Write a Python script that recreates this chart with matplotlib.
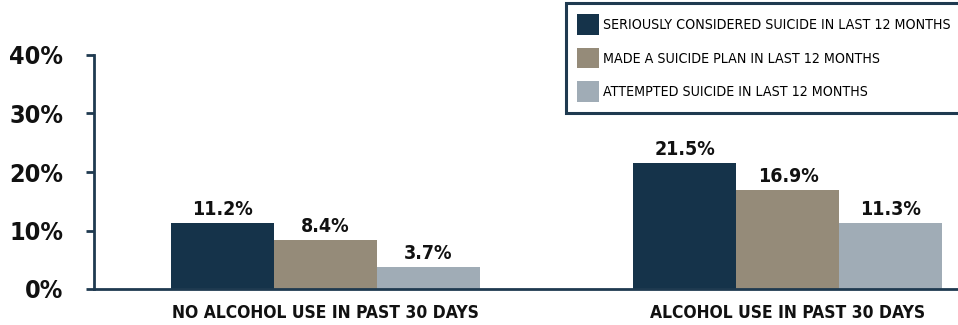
import matplotlib

matplotlib.use("Agg")
import matplotlib.pyplot as plt
import numpy as np
from matplotlib.patches import Patch

groups = ["NO ALCOHOL USE IN PAST 30 DAYS", "ALCOHOL USE IN PAST 30 DAYS"]
series = [
    "SERIOUSLY CONSIDERED SUICIDE IN LAST 12 MONTHS",
    "MADE A SUICIDE PLAN IN LAST 12 MONTHS",
    "ATTEMPTED SUICIDE IN LAST 12 MONTHS",
]
considered = [11.2, 21.5]
planned = [8.4, 16.9]
attempted = [3.7, 11.3]
yticks = [0, 10, 20, 30, 40]

colors = ["#15334a", "#958b79", "#a0acb6"]
axis_color = "#1f3a50"

fig = plt.figure(figsize=(9.58, 3.25), dpi=100)
fig.patch.set_facecolor("white")
ax = fig.add_axes([94 / 958, 36 / 325, 864 / 958, 234 / 325])

x = np.arange(len(groups))
width = 0.2227
for i, (vals, col) in enumerate(zip([considered, planned, attempted], colors)):
    pos = x + (i - 1) * width
    bars = ax.bar(pos, vals, width=width, color=col, edgecolor="none", zorder=2)
    for b, v in zip(bars, vals):
        ax.annotate(f"{v:.1f}%", (b.get_x() + b.get_width() / 2, v),
                    xytext=(0, 3), textcoords="offset points",
                    ha="center", va="bottom", fontsize=14,
                    fontweight="bold", fontstretch="condensed",
                    color="#111111")

ax.set_xlim(-0.5005, 1.3676)
ax.set_ylim(0, 40)
ax.set_yticks(yticks)
ax.set_yticklabels([f"{t}%" for t in yticks], fontsize=18, fontweight="heavy",
                   fontstretch="condensed", color="#111111")
ax.set_xticks(x)
ax.set_xticklabels(groups, fontsize=12.5, fontweight="bold",
                   fontstretch="condensed", color="#111111")
ax.tick_params(axis="y", direction="out", length=6, width=2, color=axis_color, pad=16)
ax.tick_params(axis="x", length=0, pad=11)

for side in ["top", "right"]:
    ax.spines[side].set_visible(False)
for side in ["left", "bottom"]:
    ax.spines[side].set_color(axis_color)
    ax.spines[side].set_linewidth(2)

handles = [Patch(facecolor=c, edgecolor="none") for c in colors]
leg = fig.legend(handles, series, loc="upper left",
                 bbox_to_anchor=(566 / 958, 1 - 3 / 325),
                 prop={"size": 10.2, "stretch": "condensed"},
                 handlelength=1.55, handleheight=1.85, handletextpad=0.25,
                 labelspacing=0.92, borderpad=0.8, borderaxespad=0,
                 frameon=True, fancybox=False, framealpha=1)
leg.get_frame().set_edgecolor(axis_color)
leg.get_frame().set_linewidth(2.2)

fig.savefig("out.png", dpi=100)
